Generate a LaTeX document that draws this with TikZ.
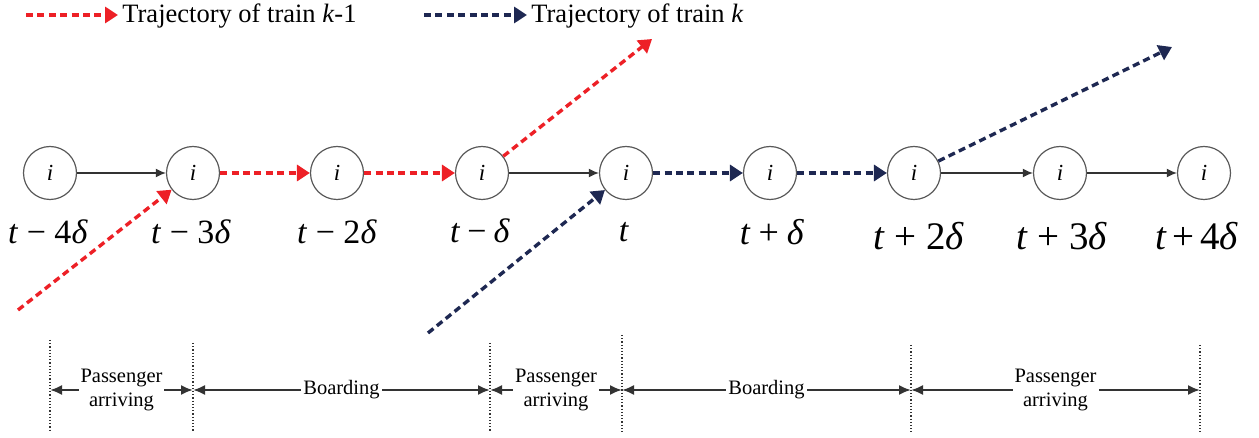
\documentclass[tikz,border=0pt]{standalone}
\usepackage{fontspec}
\setmainfont{LiberationSerif-Regular.ttf}[ItalicFont=LiberationSerif-Italic.ttf, BoldFont=LiberationSerif-Bold.ttf]
\usetikzlibrary{arrows.meta}
\definecolor{trainred}{RGB}{237,32,38}
\definecolor{trainnavy}{RGB}{30,40,82}
\newcommand{\stepmark}[3][.25em]{\textit{t}\hspace{#1}#2\hspace{#1}#3\textit{δ}}

\begin{document}
\begin{tikzpicture}[
  x=0.5pt, y=-0.5pt,
  station/.style={circle, draw=black!65, line width=0.6pt, minimum size=26.5pt, inner sep=0pt, font=\fontsize{11.5}{12}\selectfont},
  dwell/.style={draw=black!80, line width=0.75pt, -{Latex[length=5pt,width=4.5pt]}},
  traj/.style={line width=1.7pt, dash pattern=on 3.5pt off 2.2pt, -{Triangle[length=6.5pt,width=8pt]}},
  timelab/.style={anchor=base, font=\fontsize{17}{20}\selectfont},
  leglab/.style={anchor=base west, inner sep=2pt, font=\fontsize{13.25}{15}\selectfont},
  span/.style={draw=black!80, line width=1pt, {Latex[length=6pt,width=5pt]}-{Latex[length=6pt,width=5pt]}},
  spanlab/.style={fill=white, inner sep=1pt, align=center, font=\fontsize{10.25}{12.5}\selectfont}
]
\useasboundingbox (0,0) rectangle (1259,438);

% legend
\coordinate (redA) at (26,15);
\node[leglab] (legred) at (118,23) {Trajectory of train \textit{k}-1};
\draw[traj, trainred] (redA) -- (redA -| legred.west);
\coordinate (navA) at (424,15);
\node[leglab] (legnavy) at (527,23) {Trajectory of train \textit{k}};
\draw[traj, trainnavy] (navA) -- (navA -| legnavy.west);

% stations over time
\foreach \name/\x in {n1/50,n2/193,n3/337,n4/482,n5/626,n6/770,n7/914,n8/1060,n9/1204}
  \node[station] (\name) at (\x,173) {\textit{i}};

\node[timelab] (l1) at (48,244) {\stepmark{−}{4}};
\node[timelab] (l2) at (191,244) {\stepmark{−}{3}};
\node[timelab] (l3) at (337,244) {\stepmark{−}{2}};
\node[timelab] (l4) at (480,243) {\stepmark[.21em]{−}{}};
\node[timelab] (l5) at (624,242) {\textit{t}};
\node[timelab, font=\fontsize{18}{20}\selectfont] (l6) at (772,245) {\stepmark[.22em]{+}{}};
\node[timelab, font=\fontsize{19.5}{22}\selectfont] (l7) at (919,250) {\stepmark{+}{2}};
\node[timelab, font=\fontsize{19.5}{22}\selectfont] (l8) at (1062,250) {\stepmark{+}{3}};
\node[timelab, font=\fontsize{19.5}{22}\selectfont] (l9) at (1197,250) {\stepmark[.14em]{+}{4}};

% dwelling
\draw[dwell] (n1) -- (n2);
\draw[dwell] (n4) -- (n5);
\draw[dwell] (n7) -- (n8);
\draw[dwell] (n8) -- (n9);

% train k-1
\coordinate (redS) at (18,310);
\coordinate (redE) at (652,39);
\draw[traj, trainred] (redS) -- (n2);
\draw[traj, trainred] (n2) -- (n3);
\draw[traj, trainred] (n3) -- (n4);
\draw[traj, trainred] (n4) -- (redE);

% train k
\coordinate (navS) at (428,333);
\coordinate (navE) at (1172,47);
\draw[traj, trainnavy] (navS) -- (n5);
\draw[traj, trainnavy] (n5) -- (n6);
\draw[traj, trainnavy] (n6) -- (n7);
\draw[traj, trainnavy] (n7) -- (navE);

% periods
\foreach \x/\top in {50/340,193/343,490/343,622/335,911/345,1200/345}
  \draw[densely dotted, black!80, line width=0.6pt] (\x,\top) -- (\x,432);
\foreach \name/\x in {b1/50,b2/193,b3/490,b4/622,b5/911,b6/1200}
  \coordinate (\name) at (\x,390);
\draw[span] (b1) -- node[spanlab] {Passenger\\arriving} (b2);
\draw[span] (b2) -- node[spanlab] {Boarding} (b3);
\draw[span] (b3) -- node[spanlab] {Passenger\\arriving} (b4);
\draw[span] (b4) -- node[spanlab] {Boarding} (b5);
\draw[span] (b5) -- node[spanlab] {Passenger\\arriving} (b6);
\end{tikzpicture}
\end{document}
